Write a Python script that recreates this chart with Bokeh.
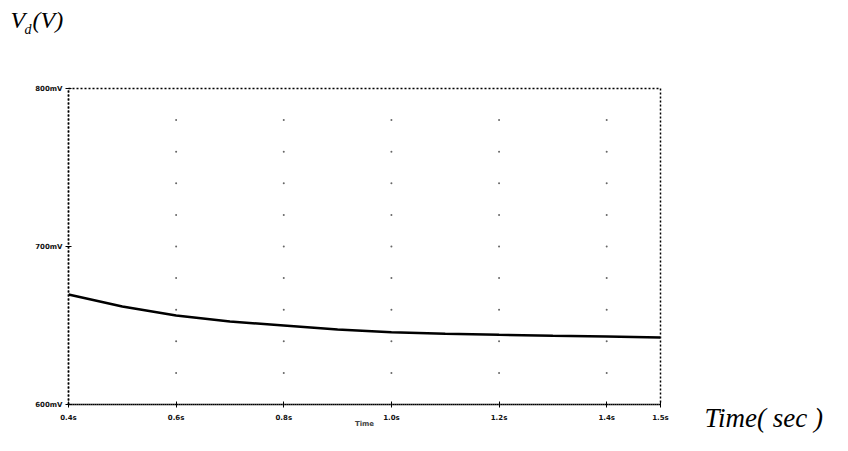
from bokeh.plotting import figure
from bokeh.models import FixedTicker, Range1d
from bokeh.layouts import column, row
from bokeh.core.properties import value
from bokeh.embed import file_html
from bokeh.resources import INLINE
import numpy as np

# Data
time_s = [0.4, 0.5, 0.6, 0.7, 0.8, 0.9, 1.0, 1.1, 1.2, 1.3, 1.4, 1.5]
vd_mv = [669.6, 662.0, 656.3, 652.5, 650.0, 647.5, 645.8, 644.8, 644.1, 643.5, 643.0, 642.4]

x_ticks = [0.4, 0.6, 0.8, 1.0, 1.2, 1.4, 1.5]
x_tick_labels = ["0.4s", "0.6s", "0.8s", "1.0s", "1.2s", "1.4s", "1.5s"]
y_ticks = [600, 700, 800]
y_tick_labels = ["600mV", "700mV", "800mV"]
grid_x = [0.6, 0.8, 1.0, 1.2, 1.4]
grid_y = [620, 640, 660, 680, 700, 720, 740, 760, 780]

W, H = 848, 451
TOP_H = 48          # strip holding the y-axis title
RIGHT_W = 148       # strip holding the x-axis title
MAIN_W, MAIN_H = W - RIGHT_W, H - TOP_H

serif = value("Liberation Serif")

def no_align(fig):
    try:
        fig.frame_align = False
    except Exception:
        pass

# ---- top strip: V_d(V) ----
top = figure(width=W, height=TOP_H, output_backend="svg", toolbar_location=None,
             x_range=Range1d(0, W), y_range=Range1d(TOP_H, 0),
             x_axis_type=None, y_axis_type=None, min_border=0)
top.outline_line_color = None
no_align(top)
top.text(x=[10, 32], y=[6, 6], text=["V", "(V)"], text_font=serif,
         text_font_style="italic", text_font_size="24px", text_color="black",
         text_baseline="top")
top.text(x=[24], y=[21], text=["d"], text_font=serif,
         text_font_style="italic", text_font_size="14px", text_color="black",
         text_baseline="top")

# ---- main plot ----
p = figure(width=MAIN_W, height=MAIN_H, output_backend="svg", toolbar_location=None,
           x_range=Range1d(0.4, 1.5), y_range=Range1d(600, 800),
           min_border_left=68, min_border_right=MAIN_W - 660,
           min_border_top=88 - TOP_H, min_border_bottom=H - 404)
p.background_fill_color = "white"
p.border_fill_color = "white"
p.outline_line_color = "black"
p.outline_line_dash = "2 2"
p.outline_line_width = 1.5
p.xgrid.visible = False
p.ygrid.visible = False
no_align(p)

# dotted grid at intersections
gx, gy = np.meshgrid(grid_x, grid_y)
p.scatter(gx.ravel(), gy.ravel(), size=2, color="#666666", line_color=None)

p.line(time_s, vd_mv, line_color="black", line_width=2.5)

for ax in (p.xaxis[0], p.yaxis[0]):
    ax.axis_line_color = "black"
    ax.axis_line_dash = "2 2"
    ax.axis_line_width = 1.5
    ax.major_tick_line_color = "black"
    ax.major_tick_in = 3
    ax.major_tick_out = 3
    ax.minor_tick_line_color = None
    ax.major_label_text_font = "DejaVu Sans"
    ax.major_label_text_font_style = "bold"
    ax.major_label_text_font_size = "7px"
    ax.major_label_text_color = "#111111"

p.xaxis.ticker = FixedTicker(ticks=x_ticks)
p.xaxis.major_label_overrides = dict(zip(x_ticks, x_tick_labels))
p.xaxis.major_label_standoff = 6
p.xaxis.axis_label = "Time"
p.xaxis.axis_label_text_font = "DejaVu Sans"
p.xaxis.axis_label_text_font_style = "bold"
p.xaxis.axis_label_text_font_size = "7px"
p.xaxis.axis_label_standoff = -5

p.yaxis.ticker = FixedTicker(ticks=y_ticks)
p.yaxis.major_label_overrides = dict(zip(y_ticks, y_tick_labels))
p.yaxis.major_label_standoff = 3

# ---- right strip: Time( sec ) ----
right = figure(width=RIGHT_W, height=MAIN_H, output_backend="svg", toolbar_location=None,
               x_range=Range1d(0, RIGHT_W), y_range=Range1d(MAIN_H, 0),
               x_axis_type=None, y_axis_type=None, min_border=0)
right.outline_line_color = None
no_align(right)
right.text(x=[704 - MAIN_W], y=[402 - TOP_H], text=["Time( sec )"], text_font=serif,
           text_font_style="italic", text_font_size="27px", text_color="black",
           text_baseline="top")

layout = column(top, row(p, column(right, spacing=0), spacing=0), spacing=0)
open("out.html", "w").write(file_html(layout, INLINE))
